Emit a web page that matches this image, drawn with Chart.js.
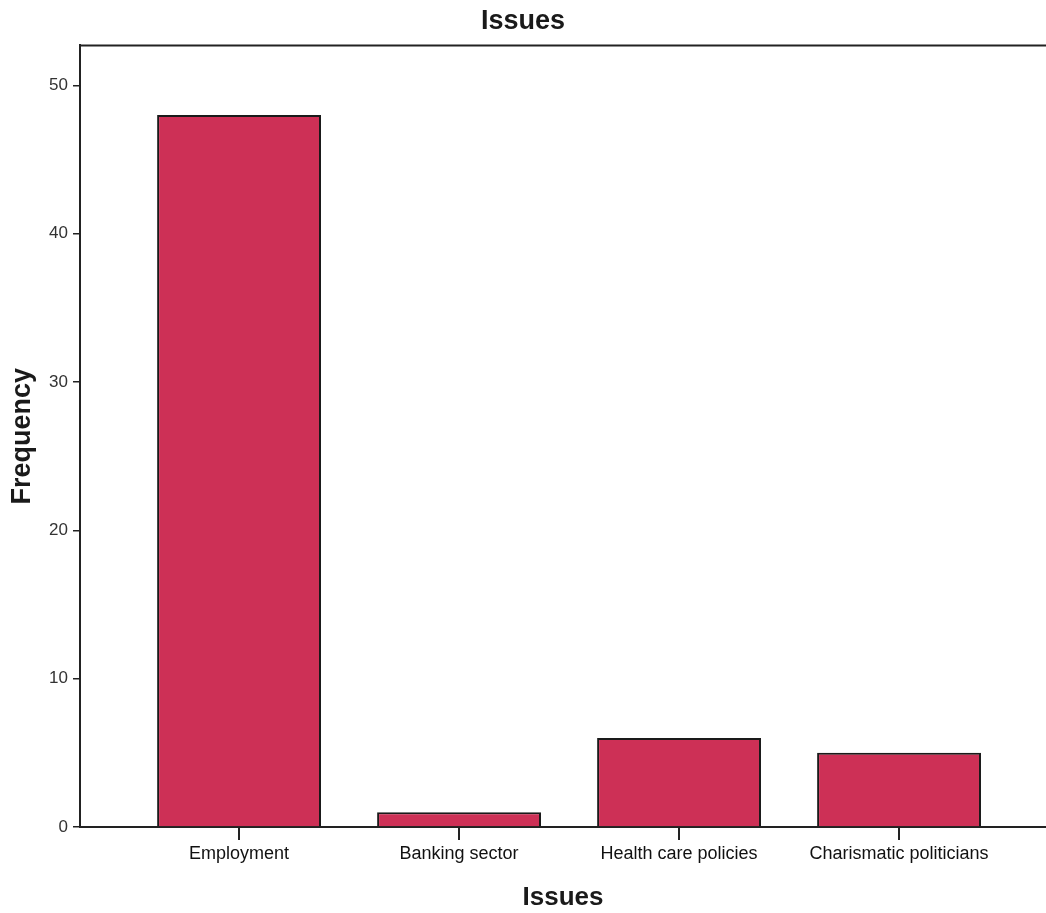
<html>
	<head>
		<meta charset="utf-8">
		<script src="https://cdn.jsdelivr.net/npm/chart.js"></script>
		<style>
			body { margin: 0; background: #fff; }
			#wrap { width: 1046px; height: 913px; }
		</style>
	</head>
	<body>
		<div id="wrap"><canvas id="myChart"></canvas></div>
		<script>
			// Data
			const categories = ['Employment', 'Banking sector', 'Health care policies', 'Charismatic politicians'];
			const frequency = [48, 1, 6, 5];
			const yTicks = [0, 10, 20, 30, 40, 50];

			const FONT = "'Liberation Sans', Arial, sans-serif";
			const LINE = '#222';

			// top frame line (SPSS style box, no right edge)
			const frameTop = {
				id: 'frameTop',
				afterDraw(chart) {
					const {ctx, chartArea} = chart;
					ctx.save();
					ctx.strokeStyle = LINE;
					ctx.lineWidth = 2;
					ctx.beginPath();
					ctx.moveTo(chartArea.left, chartArea.top);
					ctx.lineTo(chartArea.right, chartArea.top);
					ctx.stroke();
					ctx.restore();
				}
			};

			const ctx = document.getElementById('myChart');
			const chart = new Chart(ctx, {
				type: 'bar',
				data: {
					datasets: [{
						label: 'Frequency',
						data: categories.map((c, i) => ({x: i, y: frequency[i]})),
						backgroundColor: '#CD3056',
						borderColor: '#1a1a1a',
						borderWidth: 2,
						barPercentage: 1,
						categoryPercentage: 0.745
					}]
				},
				plugins: [frameTop],
				options: {
					responsive: true,
					maintainAspectRatio: false,
					animation: false,
					layout: { padding: 0 },
					plugins: {
						legend: { display: false },
						tooltip: { enabled: false },
						title: {
							display: true,
							text: 'Issues',
							color: '#1a1a1a',
							font: { family: FONT, size: 27, weight: 'bold' },
							padding: { top: 5, bottom: 8 }
						}
					},
					scales: {
						x: {
							type: 'linear',
							offset: false,
							min: -0.723,
							max: 3.668,
							afterFit: (s) => { s.height = 86; },
							afterBuildTicks: (s) => { s.ticks = categories.map((c, i) => ({value: i})); },
							grid: { display: true, offset: false, drawOnChartArea: false, drawTicks: true, tickLength: 13, color: LINE, lineWidth: 2 },
							border: { display: true, color: LINE, width: 2 },
							ticks: {
								color: '#111',
								padding: 3,
								maxRotation: 0,
								autoSkip: false,
								font: { family: FONT, size: 18 },
								callback: (v) => categories[v]
							},
							title: {
								display: true,
								text: 'Issues',
								color: '#1a1a1a',
								font: { family: FONT, size: 26, weight: 'bold' },
								padding: { top: 0, bottom: 0 }
							}
						},
						y: {
							min: 0,
							max: 52.7,
							afterFit: (s) => { s.width = 80; },
							afterBuildTicks: (s) => { s.ticks = yTicks.map(v => ({value: v})); },
							grid: { display: true, drawOnChartArea: false, drawTicks: true, tickLength: 7, color: LINE, lineWidth: 1.5 },
							border: { display: true, color: LINE, width: 2 },
							ticks: {
								color: '#333',
								padding: 5,
								font: { family: FONT, size: 17 }
							},
							title: {
								display: true,
								text: 'Frequency',
								color: '#1a1a1a',
								font: { family: FONT, size: 27, weight: 'bold' },
								padding: { top: 6, bottom: 0 }
							}
						}
					}
				}
			});
		</script>
	</body>
</html>
